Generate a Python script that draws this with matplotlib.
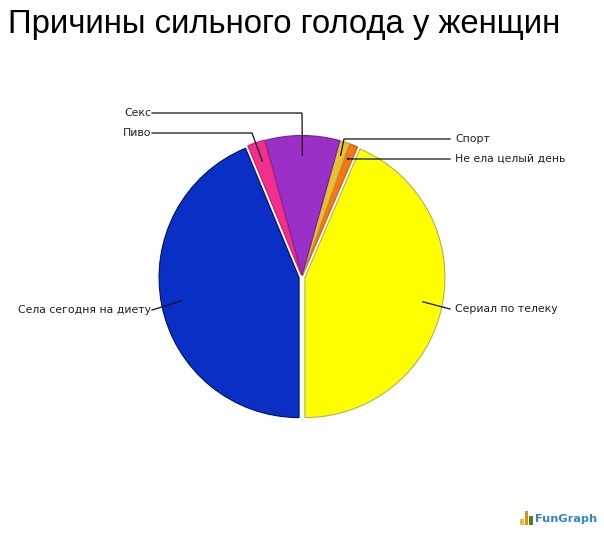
import numpy as np
import matplotlib
matplotlib.use("Agg")
import matplotlib.pyplot as plt

TITLE = "Причины сильного голода у женщин"
labels = ["Сериал по телеку", "Не ела целый день", "Спорт", "Секс", "Пиво", "Села сегодня на диету"]
values = [43.6, 1.0, 1.1, 8.6, 2.0, 43.8]
colors = ["#ffff00", "#f07818", "#e8c030", "#9a30c8", "#f0308c", "#0a2fc4"]
edges = ["#b0b060", "#d06010", "#c0a030", "#6a20a0", "#c02070", "#001060"]
offsets = [3, 1.5, 1.5, 1.5, 2, 3]

W, H = 604, 533
fig = plt.figure(figsize=(W/100, H/100), dpi=100, facecolor="white")
ax = fig.add_axes([0, 0, 1, 1])
ax.set_xlim(0, W); ax.set_ylim(0, H); ax.axis("off")

cx, cy, R = 302, H-277, 140
wedges, _ = ax.pie(values, colors=colors, startangle=-90, counterclock=True,
                   center=(cx, cy), radius=R, explode=offsets,
                   wedgeprops=dict(linewidth=0.8), frame=False)
for w, e in zip(wedges, edges):
    w.set_edgecolor(e)
ax.set_xlim(0, W); ax.set_ylim(0, H); ax.set_aspect("equal")

# leader routes, pixels from top: (label x, label y, elbow x/None, tip radius share, ha)
routes = [
    (450, 309, None, 0.86, "left"),
    (450, 159, 347, 0.90, "left"),
    (450, 139, 344, 0.90, "left"),
    (152, 113, 302, 0.86, "right"),
    (152, 133, 252, 0.86, "right"),
    (152, 310, None, 0.86, "right"),
]
for w, lab, (lx, ly, ex, f, ha) in zip(wedges, labels, routes):
    a = np.deg2rad((w.theta1 + w.theta2)/2)
    tx = w.center[0] + f*R*np.cos(a)
    ty = w.center[1] + f*R*np.sin(a)
    xs = [lx] + ([ex] if ex is not None else []) + [tx]
    ys = [H-ly] + ([H-ly] if ex is not None else []) + [ty]
    ax.plot(xs, ys, color="#101010", lw=0.9, solid_joinstyle="miter", zorder=5)
    ax.text(lx + (5 if ha == "left" else -1), H-ly, lab, ha=ha, va="center",
            fontsize=7.8, family="DejaVu Sans", color="#202020", zorder=6)

fig.text(8/W, 1-25/H, TITLE, fontsize=23.7, family="Liberation Sans", va="center", ha="left", color="black")

# FunGraph logo
logo_h = [6, 14, 9]
logo_c = ["#e8c020", "#e09010", "#5a7a20"]
for i, (h, c) in enumerate(zip(logo_h, logo_c)):
    ax.bar(522 + i*4.5, h, width=3.5, bottom=H-525, color=c, zorder=4)
ax.text(535, H-519, "FunGraph", fontsize=8.1, fontweight="bold", family="DejaVu Sans",
        color="#2f86c0", va="center", ha="left")

fig.savefig("out.png", dpi=100)
